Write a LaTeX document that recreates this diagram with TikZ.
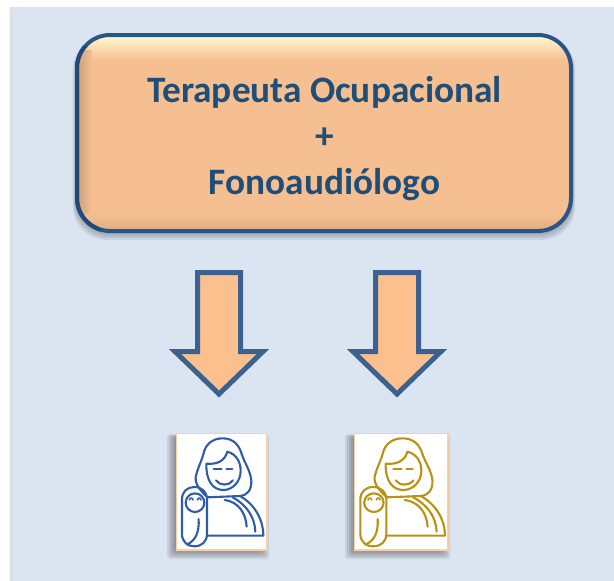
\documentclass[tikz,border=0pt]{standalone}
\usepackage{fontspec}
\setmainfont{Carlito}
\definecolor{panel}{HTML}{DBE5F1}
\definecolor{boxfill}{HTML}{F5BF92}
\definecolor{boxedge}{HTML}{2A5587}
\definecolor{boxedgedark}{HTML}{204A7C}
\definecolor{boxtext}{HTML}{1F4E79}
\definecolor{arrowfill}{HTML}{FBC08E}
\definecolor{arrowedge}{HTML}{3A6190}
\definecolor{cardedge}{HTML}{F9CFA8}
\definecolor{iconblue}{HTML}{2F5CA8}
\definecolor{icongold}{HTML}{BC9012}
\definecolor{creamtop}{HTML}{FFF9CC}
\tikzset{
  blockarrow/.style={draw=arrowedge,fill=arrowfill,line width=5pt,miter limit=10,line join=miter},
  cardbox/.style={draw=cardedge,fill=white,line width=1.3pt},
  iconline/.style={line width=2.1pt,line cap=round,line join=round,fill=none},
  boxlabel/.style={text=boxtext,font=\fontsize{37.3}{46}\selectfont\bfseries,align=center,inner sep=0pt}
}
\newcommand{\softshadow}[4]{%
  \foreach \g in {9,7,5,3,1}{%
    \fill[black,opacity=.085,rounded corners=3pt] (#1-\g,#2-\g*.3) rectangle (#3-7+\g,#4+\g);
  }%
}
\newcommand{\mothericon}{%
  % hood
  \draw[iconline] (172,232) .. controls (155,215) and (135,195) .. (137,172)
     .. controls (142,145) and (155,125) .. (163,92)
     .. controls (172,68) and (192,55) .. (218,55)
     .. controls (250,55) and (268,75) .. (276,105)
     .. controls (285,130) and (302,155) .. (304,182)
     .. controls (305,210) and (292,226) .. (270,228) -- cycle;
  % face
  \draw[iconline] (169,131) .. controls (200,134) and (224,124) .. (232,95)
     .. controls (258,102) and (272,125) .. (272,152)
     .. controls (272,185) and (248,210) .. (220,210)
     .. controls (190,210) and (168,185) .. (169,131);
  \draw[iconline] (191,146) -- (215,146);
  \draw[iconline] (229,146) -- (247,146);
  \draw[iconline] (198,181) .. controls (208,198) and (238,198) .. (249,181);
  % body
  \draw[iconline] (270,228) .. controls (310,250) and (340,295) .. (340,347) -- (172,347);
  \draw[iconline] (224,240) .. controls (265,245) and (288,280) .. (290,320);
  \draw[iconline] (248,232) .. controls (290,255) and (314,290) .. (316,335);
  % baby
  \draw[iconline] (96,238) .. controls (96,215) and (112,201) .. (133,201)
     .. controls (155,201) and (171,215) .. (171,238) -- (171,342)
     .. controls (171,365) and (155,379) .. (133,379)
     .. controls (112,379) and (96,365) .. (96,342) -- cycle;
  \draw[iconline] (135,248) ellipse (28 and 28);
  \draw[iconline,line width=1.6pt] (118,240) .. controls (120,232) and (127,232) .. (129,240);
  \draw[iconline,line width=1.6pt] (142,240) .. controls (144,232) and (151,232) .. (153,240);
  \draw[iconline] (146,297) .. controls (148,335) and (138,362) .. (110,374);
}
\begin{document}
\begin{tikzpicture}[x=1pt,y=-1pt]
  \useasboundingbox (0,0) rectangle (614,581);
  \fill[white] (0,0) rectangle (614,581);
  % panel
  \foreach \g in {3,2,1}{\fill[black,opacity=.05] (12-\g,7) rectangle (14,581);}
  \fill[panel] (12,7) rectangle (614,581);
  % box shadow
  \foreach \g in {8,6,4,2}{
    \fill[black,opacity=.07,rounded corners=34pt] (76-\g*.4,36) rectangle (572+\g*.4,232+\g);
  }
  % main box
  \fill[boxfill,rounded corners=33pt] (76,34) rectangle (572,232);
  \begin{scope}
    \clip[rounded corners=33pt] (76,34) rectangle (572,232);
    \shade[top color=creamtop,bottom color=boxfill] (76,36) rectangle (572,60);
    \shade[left color=black!18!boxfill,right color=boxfill] (76,50) rectangle (92,215);
    \shade[top color=boxfill,bottom color=black!10!boxfill] (76,214) rectangle (572,232);
  \end{scope}
  \draw[boxedge,line width=4pt,rounded corners=33pt] (77,35) rectangle (571,231);
  \begin{scope}
    \clip (70,46) rectangle (100,240);
    \draw[boxedgedark,line width=4pt,rounded corners=33pt] (77,35) rectangle (571,231);
  \end{scope}
  \node[boxlabel] (title) at (324.5,139) {Terapeuta Ocupacional\\+\\Fonoaudiólogo};
  % arrows
  \draw[blockarrow] (197.5,272.5) -- (240.5,272.5) -- (240.5,351.5) -- (263,351.5) -- (219,394) -- (175,351.5) -- (197.5,351.5) -- cycle;
  \draw[blockarrow] (375.5,272.5) -- (418.5,272.5) -- (418.5,351.5) -- (441,351.5) -- (397,394) -- (353,351.5) -- (375.5,351.5) -- cycle;
  % cards
  \softshadow{176}{437}{267}{550}
  \softshadow{354}{437}{448}{550}
  \draw[cardbox] (176.5,433.5) rectangle (267,550);
  \draw[cardbox] (354.5,433.5) rectangle (448,550);
  \begin{scope}[shift={(150,420)},x=.3333pt,y=-.3333pt,color=iconblue]
    \mothericon
  \end{scope}
  \begin{scope}[shift={(327.07,420)},x=.3467pt,y=-.3333pt,color=icongold]
    \mothericon
  \end{scope}
\end{tikzpicture}
\end{document}
